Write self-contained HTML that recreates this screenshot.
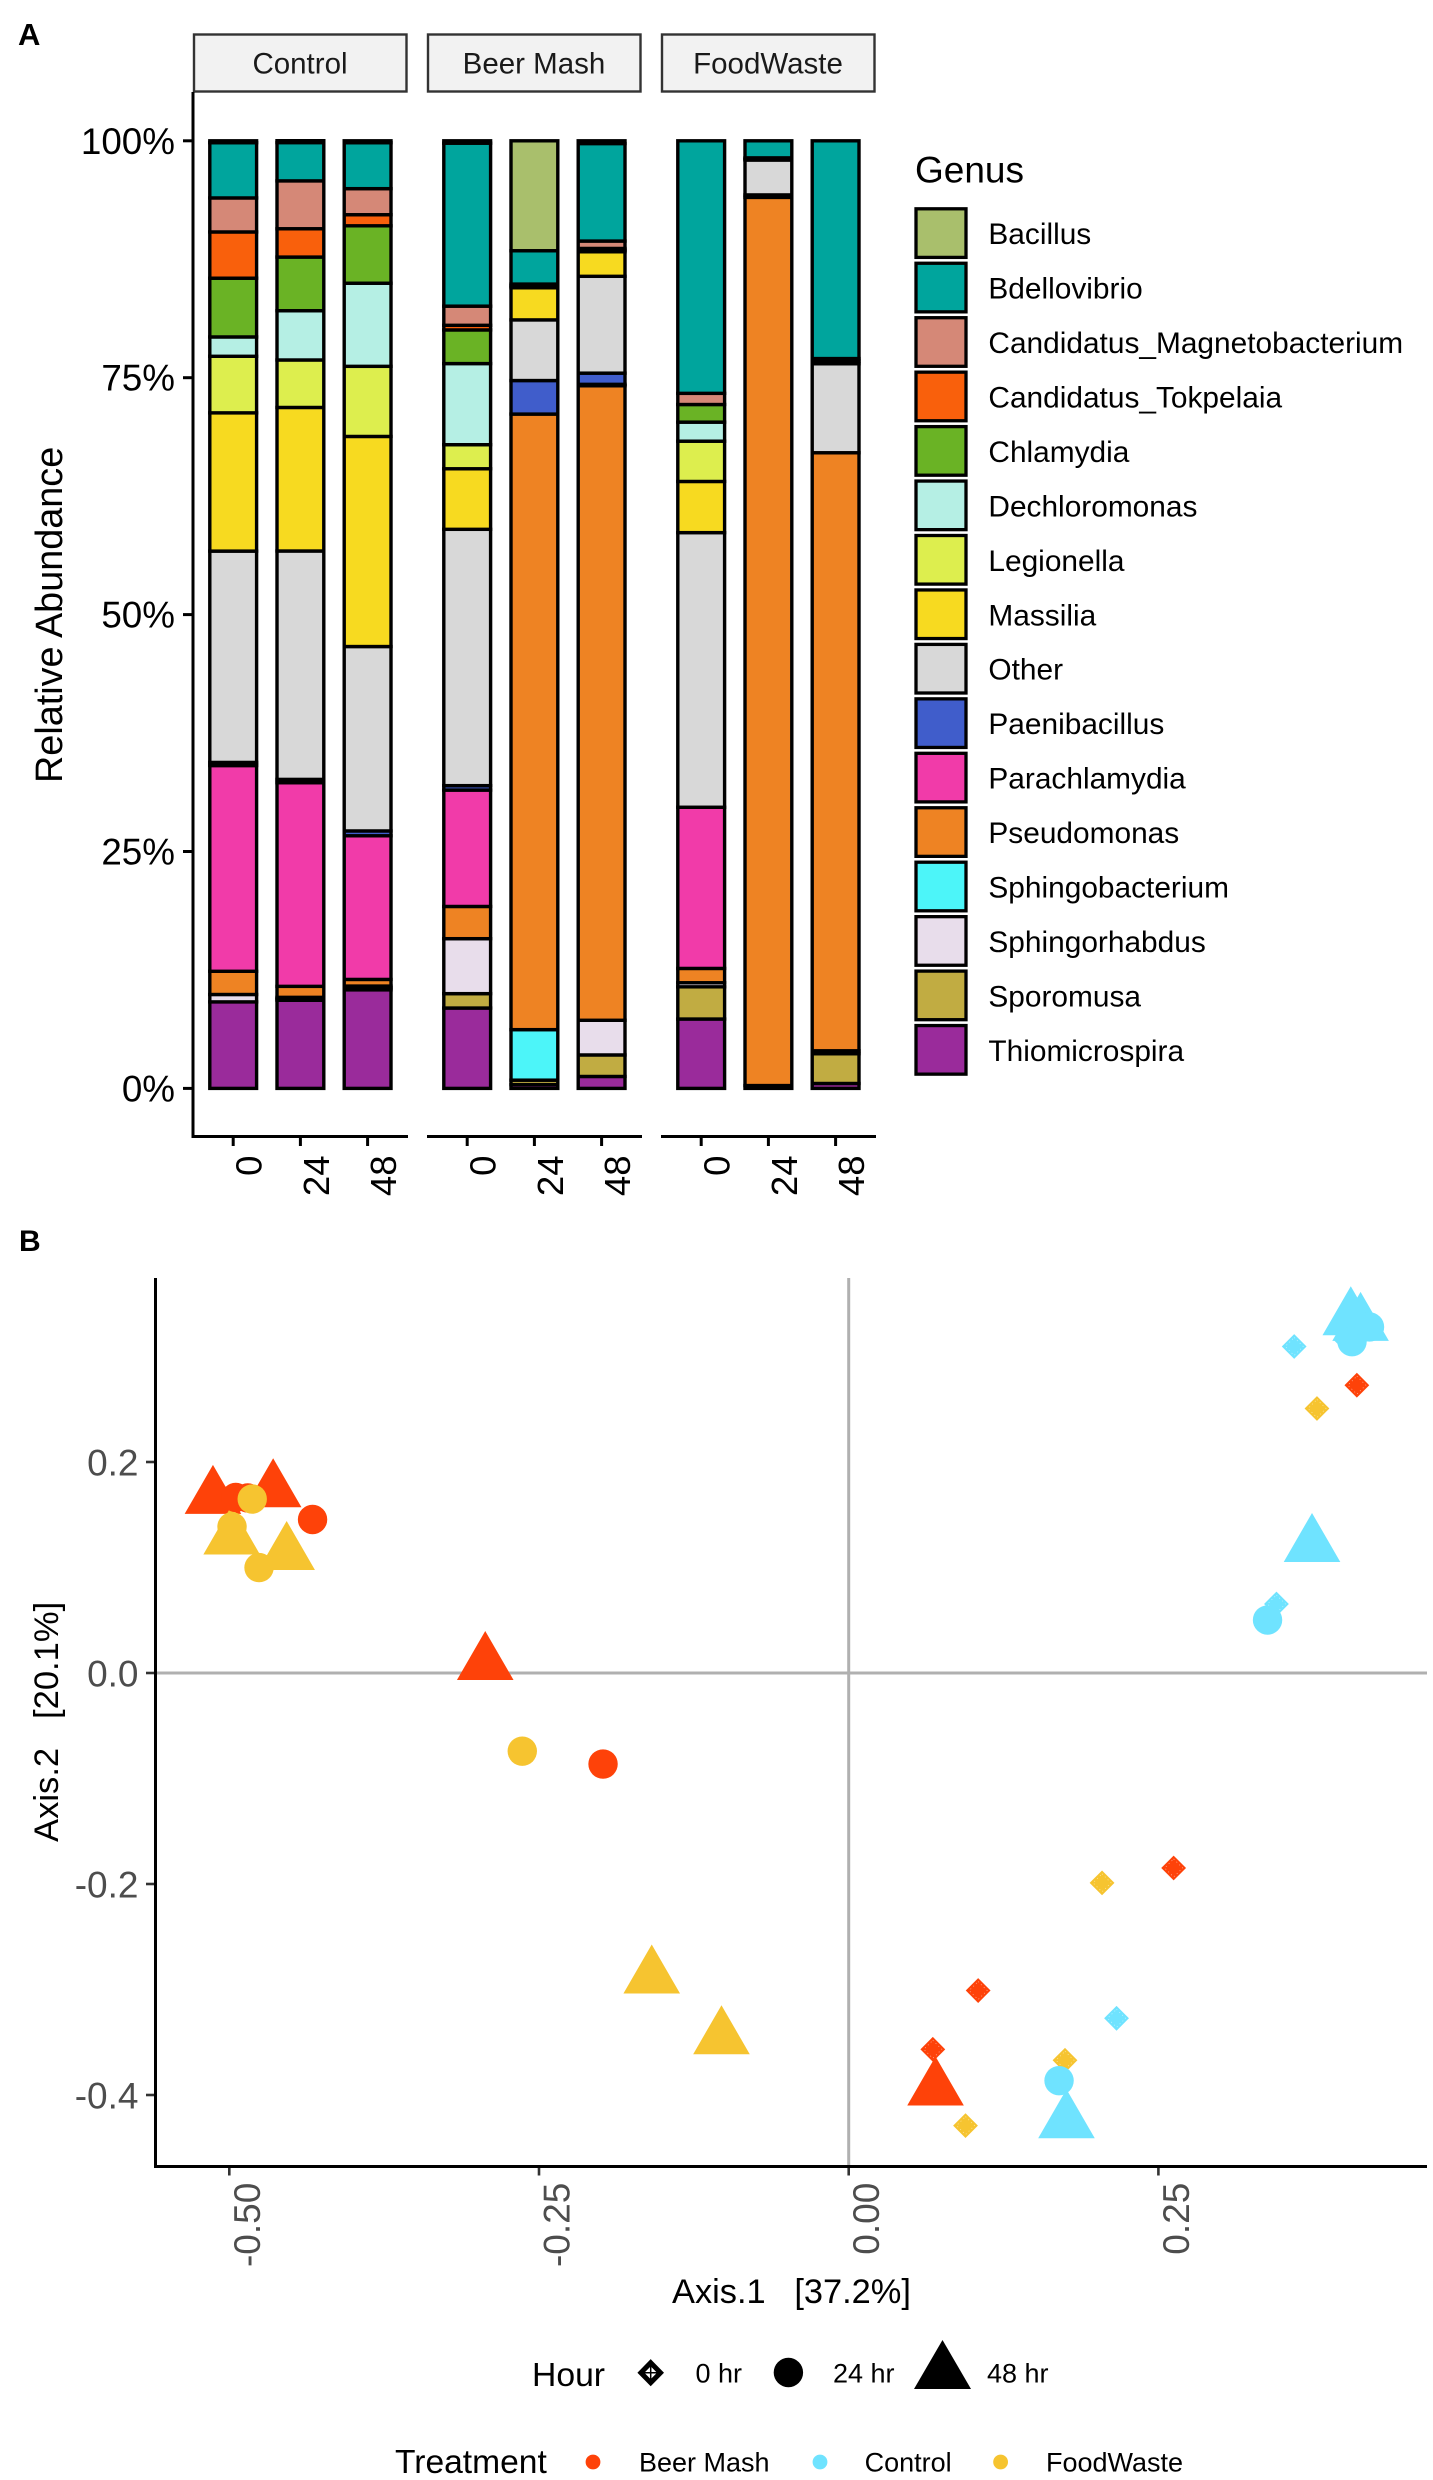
<!DOCTYPE html>
<html lang="en">
<head>
<meta charset="utf-8">
<title>Relative abundance and ordination</title>
<style>
html,body{margin:0;padding:0;background:#fff;}
svg{display:block;}
text{font-family:"Liberation Sans",Arial,sans-serif;white-space:pre;}
</style>
</head>
<body>
<svg id="fig" xmlns="http://www.w3.org/2000/svg" width="1433" height="2480" viewBox="0 0 1433 2480">
  <rect x="0" y="0" width="1433" height="2480" fill="#fff"/>
  <text x="18" y="45" font-size="31" font-weight="700">A</text>
  <text x="19" y="1251" font-size="30" font-weight="700">B</text>

  <text transform="translate(62,783) rotate(-90)" font-size="37.8">Relative Abundance</text>
  <text x="915" y="182.5" font-size="37">Genus</text>

  <text x="672" y="2303" font-size="34.4">Axis.1   [37.2%]</text>
  <text transform="translate(58,1842) rotate(-90)" font-size="34.6">Axis.2   [20.1%]</text>

  <g>
    <text x="532" y="2386" font-size="33.7">Hour</text>
    <polygon points="650.7,2362.7 660.5,2372.7 650.7,2382.7 640.9,2372.7" fill="#fff" stroke="#000" stroke-width="5"/>
    <path d="M650.7 2362.7V2382.7M640.9 2372.7H660.5" stroke="#000" stroke-width="1.5" fill="none"/>
    <text x="695.5" y="2382.6" font-size="27">0 hr</text>
    <circle cx="788.4" cy="2372.5" r="14.7" fill="#000"/>
    <text x="833" y="2382.6" font-size="27">24 hr</text>
    <polygon points="942.5,2340 971,2389 914,2389" fill="#000"/>
    <text x="987" y="2382.6" font-size="27">48 hr</text>
  </g>

  <g>
    <text x="395" y="2473" font-size="33.6">Treatment</text>
    <circle cx="593" cy="2462" r="7.4" fill="#FE4209"/>
    <text x="639" y="2471.6" font-size="27">Beer Mash</text>
    <circle cx="820" cy="2462" r="7.4" fill="#6FE3FF"/>
    <text x="864.6" y="2471.6" font-size="27">Control</text>
    <circle cx="1000.6" cy="2462" r="7.4" fill="#F6C430"/>
    <text x="1046" y="2471.6" font-size="27">FoodWaste</text>
  </g>
</svg>

<script>
/* ---------- Panel A data (percent; sample order = each facet's hours) ---------- */
const facets = ["Control", "Beer Mash", "FoodWaste"];
const hours = ["0", "24", "48"];
const abundanceTicks = [0, 25, 50, 75, 100];
const genera = ["Bacillus", "Bdellovibrio", "Candidatus_Magnetobacterium", "Candidatus_Tokpelaia", "Chlamydia", "Dechloromonas", "Legionella", "Massilia", "Other", "Paenibacillus", "Parachlamydia", "Pseudomonas", "Sphingobacterium", "Sphingorhabdus", "Sporomusa", "Thiomicrospira"];
const genusColors = ["#A9BF6C", "#00A59D", "#D58877", "#F9600C", "#6AB325", "#B5EFE4", "#DDEE4E", "#F7DA20", "#D8D8D8", "#405DCB", "#F13BA9", "#EE8323", "#4CF5F9", "#E8DDEB", "#C1AC42", "#9A2B9B"];
const bacillus = [0.2, 0.2, 0.2, 0.25, 11.6, 0.29, 0, 0, 0];
const bdellovibrio = [5.83, 4.04, 4.85, 17.2, 3.52, 10.29, 26.65, 1.8, 22.98];
const magnetobacterium = [3.59, 5.05, 2.75, 2.02, 0.2, 0.78, 1.18, 0.12, 0.27];
const tokpelaia = [4.88, 2.99, 1.17, 0.49, 0.19, 0.18, 0, 0.11, 0.28];
const chlamydia = [6.2, 5.66, 6.06, 3.55, 0, 0.17, 1.86, 0, 0];
const dechloromonas = [2.04, 5.2, 8.77, 8.56, 0, 0, 2.01, 0, 0];
const legionella = [5.97, 5.01, 7.4, 2.54, 0, 0, 4.25, 0, 0];
const massilia = [14.59, 15.15, 22.17, 6.39, 3.39, 2.59, 5.4, 0, 0];
const other = [22.3, 24.1, 19.46, 27.05, 6.4, 10.22, 28.98, 3.68, 9.39];
const paenibacillus = [0.33, 0.35, 0.51, 0.47, 3.54, 1.18, 0, 0.26, 0];
const parachlamydia = [21.71, 21.49, 15.16, 12.28, 0, 0.15, 17.01, 0, 0];
const pseudomonas = [2.45, 1.16, 0.7, 3.4, 64.96, 66.96, 1.51, 93.73, 63.11];
const sphingobacterium = [0, 0, 0, 0, 5.33, 0, 0, 0, 0];
const sphingorhabdus = [0.78, 0.16, 0.2, 5.8, 0, 3.66, 0.43, 0, 0.31];
const sporomusa = [0, 0.15, 0.2, 1.52, 0.47, 2.27, 3.4, 0, 3.14];
const thiomicrospira = [9.13, 9.3, 10.4, 8.48, 0.4, 1.26, 7.32, 0.3, 0.52];
const genusSeries = [bacillus, bdellovibrio, magnetobacterium, tokpelaia, chlamydia, dechloromonas, legionella, massilia, other, paenibacillus, parachlamydia, pseudomonas, sphingobacterium, sphingorhabdus, sporomusa, thiomicrospira];

/* ---------- Panel B data (ordination scores) ---------- */
const axis1Ticks = [-0.5, -0.25, 0, 0.25];
const axis1TickLabels = ["-0.50", "-0.25", "0.00", "0.25"];
const axis2Ticks = [0.2, 0, -0.2, -0.4];
const axis2TickLabels = ["0.2", "0.0", "-0.2", "-0.4"];
const beerMash0X = [0.4102, 0.2623, 0.1045, 0.0679];
const beerMash0Y = [0.2728, -0.1848, -0.3010, -0.3567];
const beerMash24X = [-0.4948, -0.4851, -0.4328, -0.1983];
const beerMash24Y = [0.1664, 0.1659, 0.1455, -0.0863];
const beerMash48X = [-0.5132, -0.4646, -0.2934, 0.0701];
const beerMash48Y = [0.1665, 0.1728, 0.0090, -0.3943];
const control0X = [0.3596, 0.3453, 0.2162, 0.4011];
const control0Y = [0.3095, 0.0654, -0.3273, 0.3161];
const control24X = [0.4063, 0.4204, 0.3381, 0.1698];
const control24Y = [0.3141, 0.3280, 0.0502, -0.3864];
const control48X = [0.4053, 0.4132, 0.3740, 0.1758];
const control48Y = [0.3358, 0.3305, 0.1209, -0.4253];
const foodWaste0X = [0.3780, 0.2045, 0.1746, 0.0943];
const foodWaste0Y = [0.2507, -0.1989, -0.3671, -0.4290];
const foodWaste24X = [-0.4815, -0.4978, -0.4760, -0.2635];
const foodWaste24Y = [0.1649, 0.1386, 0.0999, -0.0741];
const foodWaste48X = [-0.4981, -0.4537, -0.1590, -0.1027];
const foodWaste48Y = [0.1280, 0.1133, -0.2882, -0.3457];

const NS = "http://www.w3.org/2000/svg";
const svg = document.getElementById("fig");
function make(tag, attrs, parent) {
  const el = document.createElementNS(NS, tag);
  for (const k in attrs) el.setAttribute(k, attrs[k]);
  (parent || svg).appendChild(el);
  return el;
}

/* Panel A axis functions */
const facetLeft = f => 193 + 234 * f;
const xBar = (f, h) => facetLeft(f) + 40.2 + h * 67.2;
const yAbund = v => 1088.4 - v * 9.476;

/* facet strips + axes */
facets.forEach((name, f) => {
  const left = facetLeft(f);
  const strip = make("rect", {x: left + 1, y: 34.5, width: 212.5, height: 57, fill: "#F2F2F2", stroke: "#333", "stroke-width": 2.4});
  
  
  const label = make("text", {x: left + 107, y: 73.5, "font-size": 29.5, "text-anchor": "middle", fill: "#1a1a1a"});
  
  
  label.textContent = name;
  const axis = make("line", {x1: left - (f === 0 ? 1.5 : 0), x2: left + 215, y1: 1136.5, y2: 1136.5, stroke: "#000", "stroke-width": 3});
  
  
  hours.forEach((hr, h) => {
    const cx = xBar(f, h);
    const tick = make("line", {x1: cx, x2: cx, y1: 1136.5, y2: 1146, stroke: "#000", "stroke-width": 3});
    
    
    const t = make("text", {transform: "translate(" + (cx + 28.5) + ",1155.5) rotate(-90)", "font-size": 36.5, "text-anchor": "end"});
    
    
    t.textContent = hr;
  });
});

const yAxisA = make("line", {x1: 193, x2: 193, y1: 92, y2: 1138, stroke: "#000", "stroke-width": 3});



abundanceTicks.forEach(v => {
  const y = yAbund(v);
  const tick = make("line", {x1: 183, x2: 193, y1: y, y2: y, stroke: "#000", "stroke-width": 3});
  
  
  const t = make("text", {x: 175, y: y + 13, "font-size": 36.8, "text-anchor": "end"});
  
  
  t.textContent = v + "%";
});

/* stacked bars: Thiomicrospira at the bottom, Bacillus on top */
facets.forEach((name, f) => {
  hours.forEach((hr, h) => {
    const idx = f * hours.length + h;
    let cum = 0;
    for (let g = genera.length - 1; g >= 0; g--) {
      const val = genusSeries[g][idx];
      if (val <= 0) continue;
      const top = yAbund(cum + val);
      const bottom = yAbund(cum);
      const seg = make("rect", {x: xBar(f, h) - 23.4, y: top, width: 46.8, height: bottom - top, fill: genusColors[g], stroke: "#000", "stroke-width": 3.4});
      
      
      cum += val;
    }
  });
});

/* genus legend */
genera.forEach((name, i) => {
  const cy = 233.1 + i * 54.45;
  const key = make("rect", {x: 916, y: cy - 24.3, width: 50, height: 48.6, fill: genusColors[i], stroke: "#000", "stroke-width": 3.3});
  
  
  const t = make("text", {x: 988.4, y: cy + 11, "font-size": 29.85});
  
  
  t.textContent = name;
});

/* Panel B axis functions */
const xOrd = v => 848.7 + v * 1238.8;
const yOrd = v => 1673 - v * 1055;

const zeroH = make("line", {x1: 155, x2: 1427, y1: yOrd(0), y2: yOrd(0), stroke: "#B0B0B0", "stroke-width": 3});


const zeroV = make("line", {x1: xOrd(0), x2: xOrd(0), y1: 1278, y2: 2166, stroke: "#B0B0B0", "stroke-width": 3});



axis2Ticks.forEach((v, i) => {
  const y = yOrd(v);
  const tick = make("line", {x1: 146, x2: 155, y1: y, y2: y, stroke: "#333", "stroke-width": 2.6});
  
  
  const t = make("text", {x: 138.5, y: y + 13.5, "font-size": 37, "text-anchor": "end", fill: "#4D4D4D"});
  
  
  t.textContent = axis2TickLabels[i];
});
axis1Ticks.forEach((v, i) => {
  const x = xOrd(v);
  const tick = make("line", {x1: x, x2: x, y1: 2166.5, y2: 2175.5, stroke: "#333", "stroke-width": 2.6});
  
  
  const t = make("text", {transform: "translate(" + (x + 30.5) + ",2182.7) rotate(-90)", "font-size": 37, "text-anchor": "end", fill: "#4D4D4D"});
  
  
  t.textContent = axis1TickLabels[i];
});

/* ordination points */
const RED = "#FE4209", CYAN = "#6FE3FF", YEL = "#F6C430";
function diamond(xs, ys, color) {
  xs.forEach((xv, i) => {
    const x = xOrd(xv), y = yOrd(ys[i]);
    const p = make("polygon", {points: [x, y - 12.4, x + 12.4, y, x, y + 12.4, x - 12.4, y].join(","), fill: color});
    
    
    const q = make("polygon", {points: [x, y - 9, x + 9, y, x, y + 9, x - 9, y].join(","), fill: "none", stroke: "#fff", "stroke-width": 0.8, "stroke-dasharray": "1 3", opacity: 0.55});
    
    
  });
}
function triangle(xs, ys, color) {
  xs.forEach((xv, i) => {
    const x = xOrd(xv), y = yOrd(ys[i]);
    const p = make("polygon", {points: [x, y - 32.5, x + 28.3, y + 16.5, x - 28.3, y + 16.5].join(","), fill: color});
    
    
  });
}
function circle(xs, ys, color) {
  xs.forEach((xv, i) => {
    const c = make("circle", {cx: xOrd(xv), cy: yOrd(ys[i]), r: 14.7, fill: color});
    
    
  });
}
diamond(beerMash0X, beerMash0Y, RED);
diamond(foodWaste0X, foodWaste0Y, YEL);
diamond(control0X, control0Y, CYAN);
triangle(beerMash48X, beerMash48Y, RED);
triangle(control48X, control48Y, CYAN);
triangle(foodWaste48X, foodWaste48Y, YEL);
circle(beerMash24X, beerMash24Y, RED);
circle(control24X, control24Y, CYAN);
circle(foodWaste24X, foodWaste24Y, YEL);

const yAxisB = make("line", {x1: 155.5, x2: 155.5, y1: 1278, y2: 2168, stroke: "#000", "stroke-width": 3});


const xAxisB = make("line", {x1: 154, x2: 1427, y1: 2166.5, y2: 2166.5, stroke: "#000", "stroke-width": 3});


</script>
</body>
</html>
